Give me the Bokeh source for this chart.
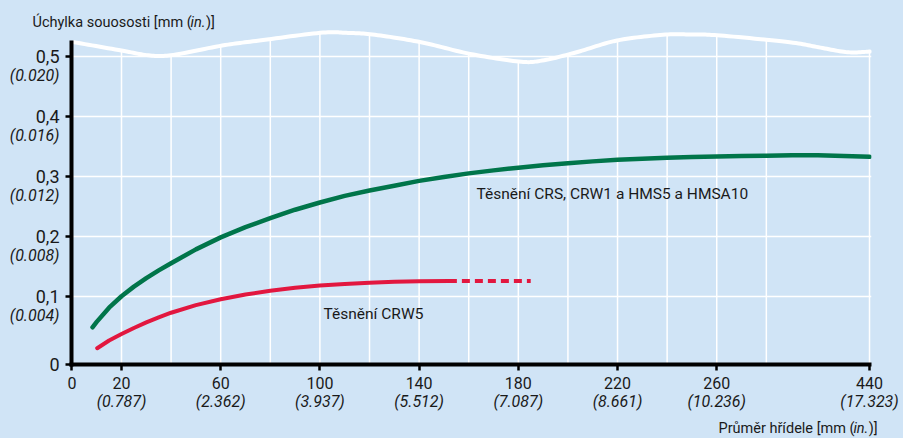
import numpy as np
from bokeh.plotting import figure
from bokeh.models import FixedTicker, Label, Range1d, LinearAxis
from bokeh.core.properties import value
from bokeh.embed import file_html
from bokeh.resources import INLINE

# ---------------- data ----------------
shaft_green = [8.3, 10, 15, 20, 25, 30, 35, 40, 50, 60, 70, 80, 90, 100, 110, 120, 130, 140,
               150, 160, 170, 180, 190, 200, 210, 220, 230, 240, 250, 260, 270, 280, 320,
               360, 400, 440]
misal_green = [0.055, 0.063, 0.084, 0.101, 0.117, 0.131, 0.144, 0.156, 0.179, 0.199, 0.216,
               0.231, 0.245, 0.257, 0.268, 0.277, 0.285, 0.293, 0.2995, 0.3055, 0.3105,
               0.315, 0.319, 0.3225, 0.3255, 0.328, 0.330, 0.3315, 0.3328, 0.3338, 0.3345,
               0.335, 0.3355, 0.3355, 0.3345, 0.333]
shaft_red = [10.2, 15, 20, 25, 30, 35, 40, 50, 60, 70, 80, 90, 100, 110, 120, 130, 140, 152]
misal_red = [0.024, 0.0355, 0.045, 0.054, 0.0622, 0.0697, 0.0765, 0.0877, 0.0965, 0.104,
             0.110, 0.115, 0.119, 0.1215, 0.1235, 0.125, 0.1258, 0.1263]
shaft_red_dash = [152, 185]
misal_red_dash = [0.1263, 0.1263]

x_ticks = [0, 20, 60, 100, 140, 180, 220, 260, 440]
x_ticks_in = ["", "(0.787)", "(2.362)", "(3.937)", "(5.512)", "(7.087)",
              "(8.661)", "(10.236)", "(17.323)"]
x_grid = [20, 40, 60, 80, 100, 120, 140, 160, 180, 200, 220, 240, 260, 280, 440]
y_ticks = [0, 0.1, 0.2, 0.3, 0.4, 0.5]
y_tick_labels = ["0", "0,1", "0,2", "0,3", "0,4", "0,5"]
y_ticks_in = ["", "(0.004)", "(0.008)", "(0.012)", "(0.016)", "(0.020)"]

label_green = "Těsnění CRS, CRW1 a HMS5 a HMSA10"
label_red = "Těsnění CRW5"
y_title = [("Úchylka souososti [mm (", "normal"), ("in.", "italic"), (")]", "normal")]
x_title = [("Průměr hřídele [mm (", "normal"), ("in.", "italic"), (")]", "normal")]

# decorative axis-break wave at the top (axis display units)
wave_x = [0.9, 20.0, 31.6, 40.9, 60.6, 75.6, 100.1, 110.6, 122.2, 140.8, 160.5, 180.2,
          189.6, 203.5, 219.8, 238.3, 249.9, 261.5, 289.4, 301.0, 312.7, 321.8]
wave_y = [0.5238, 0.510, 0.5017, 0.5028, 0.5183, 0.5267, 0.5395, 0.5395, 0.5362, 0.5238,
          0.5045, 0.4917, 0.4933, 0.5072, 0.5267, 0.5362, 0.5367, 0.535, 0.5238, 0.5155,
          0.5072, 0.5083]

# ---------------- broken-axis transforms ----------------
X_BREAK, X_COMP = 280.0, 0.26
Y_BREAK, Y_STRETCH = 0.1, 67.6 / 60.0


def sx(v):
    v = np.asarray(v, dtype=float)
    return np.where(v <= X_BREAK, v, X_BREAK + (v - X_BREAK) * X_COMP)


def sy(v):
    v = np.asarray(v, dtype=float)
    return np.where(v >= Y_BREAK, v, Y_BREAK - (Y_BREAK - v) * Y_STRETCH)


def smooth(xs, ys, n=14):
    P = np.column_stack([xs, ys])
    P = np.vstack([P[0], P, P[-1]])
    out = []
    for i in range(1, len(P) - 2):
        p0, p1, p2, p3 = P[i - 1], P[i], P[i + 1], P[i + 2]
        for t in np.linspace(0, 1, n, endpoint=False):
            t2, t3 = t * t, t * t * t
            out.append(0.5 * ((2 * p1) + (-p0 + p2) * t + (2 * p0 - 5 * p1 + 4 * p2 - p3) * t2
                              + (-p0 + 3 * p1 - 3 * p2 + p3) * t3))
    out.append(P[-2])
    out = np.array(out)
    return out[:, 0], out[:, 1]


# approximate Roboto advance widths (em/2048) used to butt the title pieces together
ADV = {"Ú": 1328, "U": 1328, "P": 1292, "c": 1072, "h": 1130, "y": 970, "l": 497, "k": 1015,
       "a": 1088, "s": 1058, "o": 1142, "u": 1129, "ů": 1129, "t": 669, "i": 497, "í": 497,
       "[": 545, "]": 545, "m": 1791, "(": 684, ")": 694, " ": 507, "r": 693, "ř": 693,
       "ě": 1060, "e": 1060, "d": 1126, "n": 1130, ".": 539}


def text_w(s, size):
    return sum(ADV.get(ch, 1100) for ch in s) / 2048.0 * size


BG = "#d0e4f6"
GREEN = "#00754a"
RED = "#e2173f"
TXT = "#1a1a1a"
FONT = "Roboto"

W, H = 903, 438
FL, FR, FT, FB = 71, 871, 28, 364      # frame box in page pixels
x0, x1 = -0.16, 322.4
y0, y1 = float(sy(0)), 0.5467
XPX = (FR - FL) / (x1 - x0)
YPX = (FB - FT) / (y1 - y0)


def px2x(px):
    return x0 + (px - FL) / XPX


def px2y(py):
    return y1 - (py - FT) / YPX


p = figure(width=W, height=H, x_range=Range1d(x0, x1), y_range=Range1d(y0, y1),
           output_backend="svg", toolbar_location=None,
           min_border_left=FL, min_border_right=W - FR, min_border_top=FT,
           min_border_bottom=H - FB)
p.background_fill_color = BG
p.border_fill_color = BG
p.outline_line_color = None

# axes
xt = [float(sx(t)) for t in x_ticks]
p.xaxis.ticker = FixedTicker(ticks=xt)
p.xaxis.major_label_overrides = {v: str(t) for v, t in zip(xt, x_ticks)}
yt = [float(sy(t)) for t in y_ticks]
p.yaxis.ticker = FixedTicker(ticks=yt)
p.yaxis.major_label_overrides = {v: s for v, s in zip(yt, y_tick_labels)}
for ax in (p.xaxis[0], p.yaxis[0]):
    ax.axis_line_width = 4
    ax.axis_line_color = "black"
    ax.axis_line_cap = "square"
    ax.major_tick_line_width = 2.5
    ax.major_tick_line_color = "black"
    ax.major_tick_out = 6
    ax.major_tick_in = 0
    ax.minor_tick_line_color = None
    ax.major_label_text_font = FONT
    ax.major_label_text_color = TXT
    ax.major_label_standoff = 6
p.xaxis.major_label_text_font_size = "16px"
p.yaxis.major_label_text_font_size = "18px"
p.xaxis.bounds = (x0, float(sx(440)))
p.yaxis.bounds = (y0, 0.523)

# second x axis with the inch values (italic)
ax_in = LinearAxis(ticker=FixedTicker(ticks=xt),
                   major_label_overrides={v: s for v, s in zip(xt, x_ticks_in)},
                   axis_line_color=None, major_tick_line_color=None,
                   minor_tick_line_color=None, major_tick_out=0, major_tick_in=0,
                   major_label_standoff=0, major_label_text_font=FONT,
                   major_label_text_font_size="16px", major_label_text_font_style="italic",
                   major_label_text_color=TXT)
p.add_layout(ax_in, "below")

# grids
p.xgrid.visible = False
p.ygrid.ticker = FixedTicker(ticks=[0.1, 0.2, 0.3, 0.4, 0.5])
p.ygrid.grid_line_color = "white"
p.ygrid.grid_line_width = 1.5
p.ygrid.bounds = (x0, float(sx(440)))

wx, wy = smooth(wave_x, wave_y)
gx = sx(x_grid)
gtop = np.interp(gx, wx, wy)
p.segment(x0=gx, y0=[y0] * len(gx), x1=gx, y1=gtop, line_color="white", line_width=1.5)

# wave
p.line(wx, wy, line_color="white", line_width=4, line_cap="round", line_join="round")

# curves
p.line(sx(shaft_green), sy(misal_green), line_color=GREEN, line_width=4.5,
       line_cap="round", line_join="round")
p.line(sx(shaft_red), sy(misal_red), line_color=RED, line_width=4,
       line_cap="round", line_join="round")
p.line(sx(shaft_red_dash), sy(misal_red_dash), line_color=RED, line_width=4,
       line_dash="8 5", line_cap="butt")

# curve labels (inside the frame)
p.add_layout(Label(x=px2x(476), y=px2y(193), text=label_green, text_font=FONT,
                   text_font_size="15.5px", text_color=TXT, text_baseline="middle",
                   text_align="left"))
p.add_layout(Label(x=px2x(323), y=px2y(313), text=label_red, text_font=FONT,
                   text_font_size="15.5px", text_color=TXT, text_baseline="middle",
                   text_align="left"))

# y inch labels, outside frame -> text glyph on overlay level
yin_t = [float(sy(t)) - 19 / YPX for t, s in zip(y_ticks, y_ticks_in) if s]
yin_s = [s for s in y_ticks_in if s]
p.text(x=[px2x(59)] * len(yin_s), y=yin_t, text=yin_s, text_font=value(FONT),
       text_font_size="16px", text_font_style="italic", text_color=TXT,
       text_align="right", text_baseline="middle", level="overlay")


# axis titles (mixed upright / italic), pieces placed one after another
def title_parts(parts, py, start_px, size=14.5):
    px = start_px
    for t, style in parts:
        p.text(x=[px2x(px)], y=[px2y(py)], text=[t], text_font=value(FONT),
               text_font_size=f"{size}px", text_font_style=style, text_color=TXT,
               text_align="left", text_baseline="middle", level="overlay")
        px += text_w(t, size)


title_parts(y_title, 22, 32)
xt_w = sum(text_w(t, 14.5) for t, s in x_title)
title_parts(x_title, 428, 877 - xt_w)

html = file_html(p, INLINE)
html = html.replace("<head>", "<head><style>html,body{background:#d0e4f6;}</style>", 1)
open("out.html", "w").write(html)
